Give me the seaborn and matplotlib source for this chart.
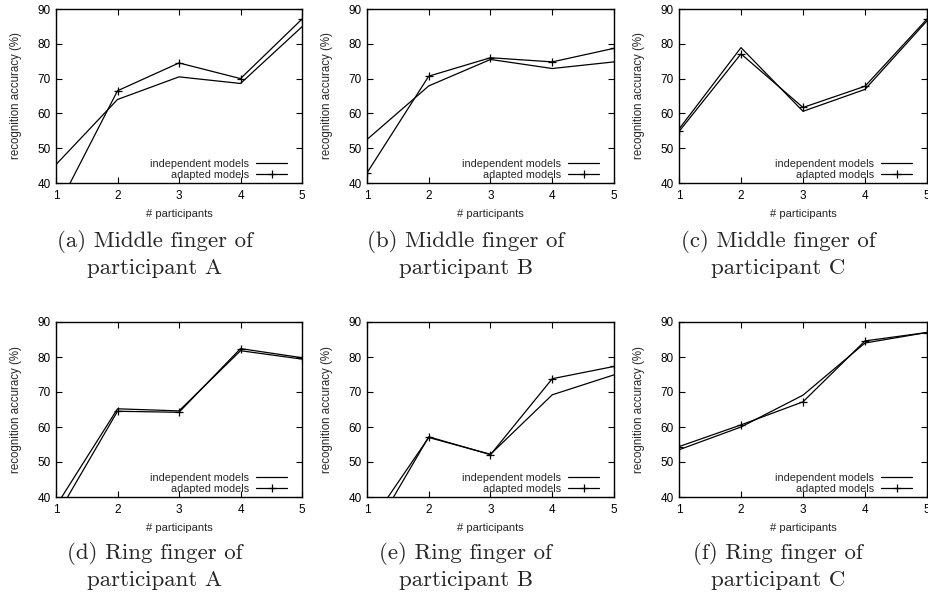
import numpy as np
import pandas as pd
import matplotlib
matplotlib.use("Agg")
import matplotlib.pyplot as plt
import seaborn as sns

# number of participants on the x axis
participants = [1, 2, 3, 4, 5]

# recognition accuracy (%)
indep_a = [45.3, 64.0, 70.5, 68.6, 84.9]
adapt_a = [32.1, 66.5, 74.5, 70.0, 87.1]
indep_b = [52.5, 67.9, 75.5, 72.9, 74.8]
adapt_b = [42.9, 70.7, 76.0, 74.8, 78.7]
indep_c = [55.5, 78.9, 60.6, 66.9, 86.6]
adapt_c = [54.8, 77.1, 61.7, 67.8, 87.1]
indep_d = [37.4, 65.2, 64.6, 81.8, 79.4]
adapt_d = [34.3, 64.5, 64.2, 82.4, 79.8]
indep_e = [31.2, 57.0, 52.2, 69.2, 74.9]
adapt_e = [27.0, 57.2, 52.1, 73.8, 77.3]
indep_f = [53.5, 60.0, 69.1, 84.0, 87.0]
adapt_f = [54.4, 60.6, 67.2, 84.6, 87.0]

captions = [
    "(a) Middle finger of\nparticipant A",
    "(b) Middle finger of\nparticipant B",
    "(c) Middle finger of\nparticipant C",
    "(d) Ring finger of\nparticipant A",
    "(e) Ring finger of\nparticipant B",
    "(f) Ring finger of\nparticipant C",
]
panels = [(indep_a, adapt_a), (indep_b, adapt_b), (indep_c, adapt_c),
          (indep_d, adapt_d), (indep_e, adapt_e), (indep_f, adapt_f)]

sns.set_style("ticks", {"xtick.direction": "in", "ytick.direction": "in"})
plt.rcParams["font.family"] = ["Liberation Sans", "DejaVu Sans"]
plt.rcParams["font.size"] = 8

W, H = 929, 597
fig = plt.figure(figsize=(W / 100, H / 100), dpi=100)

# axes boxes in pixels: left, top, right, bottom
lefts = [56, 367, 679]
rights = [302, 614, 927]
tops = [9, 322]
bottoms = [183, 497]
cap_x = [155, 466, 778]
cap_y = [254, 566]

for i, (indep, adapt) in enumerate(panels):
    r, c = divmod(i, 3)
    l, rr = lefts[c], rights[c]
    t, b = tops[r], bottoms[r]
    ax = fig.add_axes([l / W, 1 - b / H, (rr - l) / W, (b - t) / H])

    sns.lineplot(x=participants, y=indep, ax=ax, color="black", lw=0.9,
                 label="independent models")
    sns.lineplot(x=participants, y=adapt, ax=ax, color="black", lw=0.9,
                 marker="+", markersize=6, markeredgewidth=0.9,
                 markeredgecolor="black", label="adapted models")

    ax.set_xlim(1, 5)
    ax.set_ylim(40, 90)
    ax.set_xticks(participants)
    ax.set_yticks([40, 50, 60, 70, 80, 90])
    ax.tick_params(top=True, right=True, direction="in", length=4,
                   width=0.8, labelsize=8.5, colors="black")
    ax.tick_params(axis="x", pad=5)
    ax.tick_params(axis="y", pad=4)
    for s in ax.spines.values():
        s.set_linewidth(1.0)
        s.set_color("black")

    ax.set_xlabel("# participants", fontsize=8, labelpad=5)
    ax.set_ylabel("recognition accuracy (%)", fontsize=8.3)
    ax.yaxis.set_label_coords(-0.138, 0.5)

    ax.legend(loc="lower right", bbox_to_anchor=(1 - 12 / (rr - l), 0.0),
              frameon=False, markerfirst=False, borderpad=0.3,
              handlelength=2.8, handletextpad=0.7, labelspacing=0.05,
              fontsize=7.8, borderaxespad=0)

    fig.text(cap_x[c] / W, 1 - cap_y[r] / H, captions[i], ha="center",
             va="center", fontfamily="cmr10", fontsize=16.5, linespacing=1.3)

fig.savefig("out.png", dpi=100)
